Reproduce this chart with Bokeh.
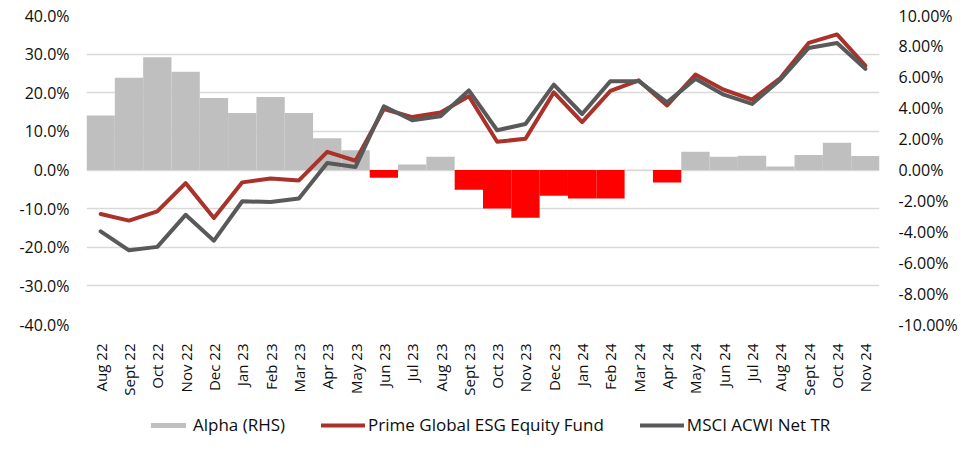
from bokeh.plotting import figure
from bokeh.layouts import column
from bokeh.models import (ColumnDataSource, FactorRange, Range1d, LinearAxis,
                          FixedTicker, PrintfTickFormatter, Legend, LegendItem)
from bokeh.embed import file_html
from bokeh.resources import INLINE
import math

months = ["Aug 22", "Sept 22", "Oct 22", "Nov 22", "Dec 22", "Jan 23", "Feb 23",
          "Mar 23", "Apr 23", "May 23", "Jun 23", "Jul 23", "Aug 23", "Sept 23",
          "Oct 23", "Nov 23", "Dec 23", "Jan 24", "Feb 24", "Mar 24", "Apr 24",
          "May 24", "Jun 24", "Jul 24", "Aug 24", "Sept 24", "Oct 24", "Nov 24"]

# Alpha (RHS), percent
alpha = [3.52, 5.97, 7.29, 6.36, 4.66, 3.69, 4.72, 3.69, 2.06, 1.28,
         -0.50, 0.36, 0.85, -1.28, -2.49, -3.09, -1.66, -1.85, -1.85, 0.02,
         -0.81, 1.18, 0.86, 0.92, 0.22, 0.97, 1.76, 0.90]

# Prime Global ESG Equity Fund, cumulative %, LHS
fund = [-11.4, -13.1, -10.7, -3.4, -12.4, -3.2, -2.2, -2.7, 4.7, 2.4,
        15.8, 13.7, 14.9, 19.1, 7.3, 8.1, 20.1, 12.4, 20.5, 23.2,
        16.7, 24.7, 20.8, 18.2, 23.8, 32.9, 35.1, 27.0]

# MSCI ACWI Net TR, cumulative %, LHS
msci = [-15.9, -20.8, -19.9, -11.6, -18.3, -8.1, -8.3, -7.4, 1.8, 0.8,
        16.5, 12.9, 13.9, 20.6, 10.3, 11.9, 22.1, 14.5, 23.0, 23.0,
        17.5, 23.6, 19.5, 17.1, 23.4, 31.6, 32.9, 26.2]

left_ticks = [-40, -30, -20, -10, 0, 10, 20, 30, 40]
right_ticks = [-10, -8, -6, -4, -2, 0, 2, 4, 6, 8, 10]

FONT = "Open Sans"
TXT = "#0d0d0d"
C_POS, C_NEG, C_FUND, C_MSCI = "#BFBFBF", "#FF0000", "#A9322B", "#595959"

pos_src = ColumnDataSource(dict(x=[m for m, a in zip(months, alpha) if a >= 0],
                                top=[a for a in alpha if a >= 0]))
neg_src = ColumnDataSource(dict(x=[m for m, a in zip(months, alpha) if a < 0],
                                top=[a for a in alpha if a < 0]))
line_src = ColumnDataSource(dict(x=months, fund=fund, msci=msci))

W = 965
p = figure(width=W, height=404, x_range=FactorRange(*months, range_padding=0),
           y_range=Range1d(-40, 40), output_backend="svg", toolbar_location=None,
           min_border_left=86, min_border_right=86, min_border_top=15,
           min_border_bottom=80)
p.outline_line_color = None
p.background_fill_color = "white"
p.border_fill_color = "white"

p.extra_y_ranges = {"alpha": Range1d(-10, 10)}

p.vbar(x="x", top="top", bottom=0, width=1.0, source=pos_src,
       fill_color=C_POS, line_color=None, y_range_name="alpha")
p.vbar(x="x", top="top", bottom=0, width=1.0, source=neg_src,
       fill_color=C_NEG, line_color=None, y_range_name="alpha")
p.line(x="x", y="fund", source=line_src, line_color=C_FUND,
       line_width=4, line_join="round", line_cap="round")
p.line(x="x", y="msci", source=line_src, line_color=C_MSCI,
       line_width=4, line_join="round", line_cap="round")

# left axis
ya = p.yaxis[0]
ya.ticker = FixedTicker(ticks=left_ticks)
ya.formatter = PrintfTickFormatter(format="%.1f%%")
ya.axis_line_color = None
ya.major_tick_line_color = None
ya.minor_tick_line_color = None
ya.major_label_standoff = 11
ya.major_label_text_font = FONT
ya.major_label_text_font_size = "16px"
ya.major_label_text_color = TXT

# right axis
ra = LinearAxis(y_range_name="alpha", ticker=FixedTicker(ticks=right_ticks),
                formatter=PrintfTickFormatter(format="%.2f%%"))
ra.axis_line_color = None
ra.major_tick_line_color = None
ra.minor_tick_line_color = None
ra.major_label_standoff = 13
ra.major_label_text_font = FONT
ra.major_label_text_font_size = "16px"
ra.major_label_text_color = TXT
p.add_layout(ra, "right")

# x axis
xa = p.xaxis[0]
xa.axis_line_color = None
xa.major_tick_line_color = None
xa.minor_tick_line_color = None
xa.major_label_orientation = math.pi / 2
xa.major_label_standoff = 13
xa.major_label_text_font = FONT
xa.major_label_text_font_size = "15px"
xa.major_label_text_color = TXT

p.xgrid.grid_line_color = None
p.ygrid.grid_line_color = "#D9D9D9"
p.ygrid.grid_line_width = 1.5
p.ygrid.ticker = FixedTicker(ticks=left_ticks)

# legend strip (separate figure so the legend is not clipped by the frame);
# its proxy renderers use the real series but lie outside this strip's range
q = figure(width=W, height=40, x_range=Range1d(0, 1), y_range=Range1d(1000, 1001),
           output_backend="svg", toolbar_location=None,
           x_axis_location=None, y_axis_location=None,
           min_border_left=0, min_border_right=0, min_border_top=0,
           min_border_bottom=0)
q.outline_line_color = None
q.grid.visible = False
idx = list(range(len(months)))
r_a = q.vbar(x=idx, top=alpha, width=1, fill_color=C_POS, line_color=None)
r_f = q.line(x=idx, y=fund, line_color=C_FUND, line_width=4, line_cap="round")
r_m = q.line(x=idx, y=msci, line_color=C_MSCI, line_width=4, line_cap="round")

legend = Legend(items=[LegendItem(label="Alpha (RHS)", renderers=[r_a]),
                       LegendItem(label="Prime Global ESG Equity Fund", renderers=[r_f]),
                       LegendItem(label="MSCI ACWI Net TR", renderers=[r_m])],
                orientation="horizontal", location=(60, 8))
legend.glyph_width = 44
legend.glyph_height = 6
legend.label_standoff = 3
legend.spacing = 36
legend.padding = 4
legend.margin = 0
legend.label_text_font = FONT
legend.label_text_font_size = "17px"
legend.label_text_color = TXT
legend.border_line_color = None
legend.background_fill_alpha = 0
q.add_layout(legend, "center")

layout = column(p, q, spacing=0)
open("out.html", "w").write(file_html(layout, INLINE))
